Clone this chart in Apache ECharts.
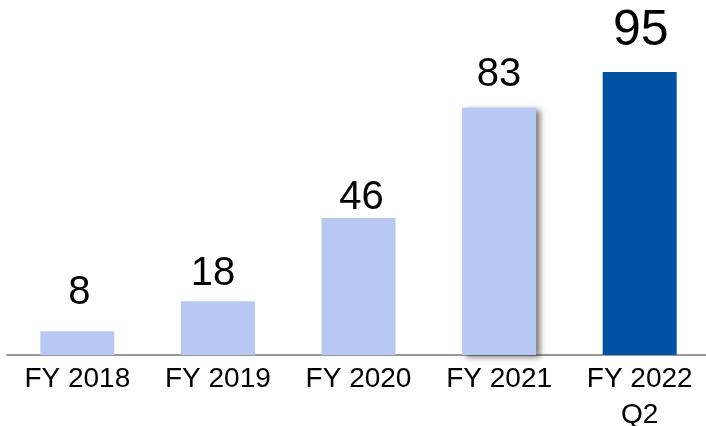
<!DOCTYPE html>
<html>
<head>
<meta charset="utf-8">
<script src="https://cdn.jsdelivr.net/npm/echarts@6/dist/echarts.min.js"></script>
<style>
html,body{margin:0;padding:0;background:#fff;}
#chart{width:706px;height:426px;}
</style>
</head>
<body>
<div id="chart"></div>
<script>
const categories = ['FY 2018', 'FY 2019', 'FY 2020', 'FY 2021', 'FY 2022\nQ2'];
const values = [8, 18, 46, 83, 95];

// styling per bar (not data)
const labelGaps = [18, 7, 0, 13, 16];
const labelShiftX = [2, -5, 3, 0, 1];
const labelSizes = [40, 40, 40, 40, 50];
const lightBlue = '#B7C9F3';
const darkBlue = '#0052A5';

const seriesData = values.map((v, i) => {
  const item = {
    value: v,
    itemStyle: { color: i === values.length - 1 ? darkBlue : lightBlue },
    label: { distance: labelGaps[i], fontSize: labelSizes[i], offset: [labelShiftX[i], 0] }
  };
  if (i === 3) {
    item.itemStyle.shadowColor = 'rgba(0,0,0,0.55)';
    item.itemStyle.shadowBlur = 6;
    item.itemStyle.shadowOffsetX = 4;
    item.itemStyle.shadowOffsetY = 2;
  }
  return item;
});

const chart = echarts.init(document.getElementById('chart'), null, { renderer: 'canvas' });
chart.setOption({
  animation: false,
  backgroundColor: '#ffffff',
  grid: { left: 7, width: 703, top: 57, bottom: 71, containLabel: false, outerBoundsMode: 'none' },
  xAxis: {
    type: 'category',
    data: categories,
    axisLine: { show: true, lineStyle: { color: '#999999', width: 2 } },
    axisTick: { show: false },
    axisLabel: {
      color: '#000000',
      fontFamily: 'Liberation Sans, Arial, sans-serif',
      fontSize: 28,
      lineHeight: 36,
      margin: 6,
      interval: 0,
      hideOverlap: false
    }
  },
  yAxis: {
    type: 'value',
    min: 0,
    max: 100,
    show: false,
    splitLine: { show: false }
  },
  series: [{
    type: 'bar',
    data: seriesData,
    barWidth: 74,
    label: {
      show: true,
      position: 'top',
      color: '#000000',
      fontFamily: 'Liberation Sans, Arial, sans-serif',
      fontSize: 40
    }
  }]
});
</script>
</body>
</html>
